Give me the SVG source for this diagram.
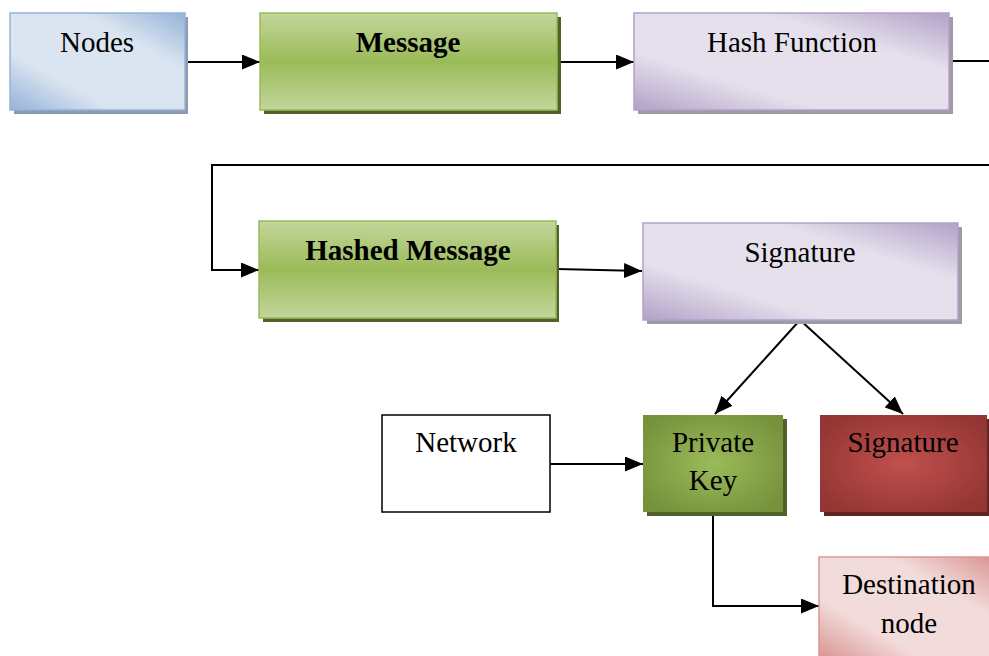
<svg xmlns="http://www.w3.org/2000/svg" width="989" height="656" viewBox="0 0 989 656">
  <defs>
    <linearGradient id="gBlue" x1="0" y1="1" x2="1" y2="0">
      <stop offset="0" stop-color="#95b3d7"/>
      <stop offset="0.3" stop-color="#dbe5f1"/>
      <stop offset="0.7" stop-color="#dbe5f1"/>
      <stop offset="1" stop-color="#95b3d7"/>
    </linearGradient>
    <linearGradient id="gGreen" x1="0" y1="0" x2="0" y2="1">
      <stop offset="0" stop-color="#c3d69b"/>
      <stop offset="0.5" stop-color="#9bbb59"/>
      <stop offset="1" stop-color="#c3d69b"/>
    </linearGradient>
    <linearGradient id="gPurple" x1="0" y1="1" x2="1" y2="0">
      <stop offset="0" stop-color="#b2a1c7"/>
      <stop offset="0.3" stop-color="#e5e0ec"/>
      <stop offset="0.7" stop-color="#e5e0ec"/>
      <stop offset="1" stop-color="#b2a1c7"/>
    </linearGradient>
    <linearGradient id="gPink" x1="0" y1="1" x2="1" y2="0">
      <stop offset="0" stop-color="#d99694"/>
      <stop offset="0.3" stop-color="#f2dcdb"/>
      <stop offset="0.7" stop-color="#f2dcdb"/>
      <stop offset="1" stop-color="#d99694"/>
    </linearGradient>
    <radialGradient id="gOlive" cx="0.5" cy="0.5" r="0.6">
      <stop offset="0" stop-color="#9bbb59"/>
      <stop offset="1" stop-color="#76923c"/>
    </radialGradient>
    <radialGradient id="gRed" cx="0.5" cy="0.5" r="0.6">
      <stop offset="0" stop-color="#c0504d"/>
      <stop offset="1" stop-color="#943634"/>
    </radialGradient>
    <marker id="arrow" viewBox="0 0 10 10" refX="10" refY="5" markerWidth="8" markerHeight="7" markerUnits="userSpaceOnUse" orient="auto" preserveAspectRatio="none">
      <path d="M0,0 L10,5 L0,10 Z" fill="#000"/>
    </marker>
    <marker id="arrowBig" viewBox="0 0 10 10" refX="10" refY="5" markerWidth="18" markerHeight="15" markerUnits="userSpaceOnUse" orient="auto" preserveAspectRatio="none">
      <path d="M0,0 L10,5 L0,10 Z" fill="#000"/>
    </marker>
  </defs>
  <style>
    text { font-family: "Liberation Serif", "Times New Roman", serif; font-size: 29px; fill: #000; text-anchor: middle; }
    .bold { font-weight: bold; }
    .wire { fill: none; stroke: #000; stroke-width: 2; }
  </style>

  <rect width="989" height="656" fill="#fff"/>

  <!-- connectors -->
  <g id="connectors">
    <line class="wire" x1="185" y1="62" x2="260" y2="62" marker-end="url(#arrowBig)"/>
    <line class="wire" x1="557" y1="62" x2="634" y2="62" marker-end="url(#arrowBig)"/>
    <line class="wire" x1="949" y1="61" x2="989" y2="61"/>
    <polyline class="wire" points="989,165 212,165 212,270 259,270" marker-end="url(#arrowBig)"/>
    <line class="wire" x1="557" y1="269" x2="642" y2="271" marker-end="url(#arrowBig)"/>
    <line class="wire" x1="800" y1="320" x2="715" y2="414" marker-end="url(#arrowBig)"/>
    <line class="wire" x1="800" y1="320" x2="903" y2="414" marker-end="url(#arrowBig)"/>
    <line class="wire" x1="550" y1="464" x2="643" y2="464" marker-end="url(#arrowBig)"/>
    <polyline class="wire" points="713,512 713,606 819,606" marker-end="url(#arrowBig)"/>
  </g>

  <!-- nodes -->
  <g id="node-nodes">
    <rect x="14" y="17" width="174" height="97" fill="#8d9bb1"/>
    <rect x="10" y="13" width="175" height="97" fill="url(#gBlue)" stroke="#95b3d7" stroke-width="1.5"/>
    <text x="97" y="52">Nodes</text>
  </g>

  <g id="node-message">
    <rect x="264" y="17" width="297" height="97" fill="#4f6228"/>
    <rect x="260" y="13" width="297" height="97" fill="url(#gGreen)" stroke="#9bbb59" stroke-width="1.5"/>
    <text class="bold" x="408" y="52">Message</text>
  </g>

  <g id="node-hash-function">
    <rect x="638" y="17" width="315" height="97" fill="#a09aa8"/>
    <rect x="634" y="13" width="315" height="97" fill="url(#gPurple)" stroke="#b2a1c7" stroke-width="1.5"/>
    <text x="792" y="52">Hash Function</text>
  </g>

  <g id="node-hashed-message">
    <rect x="263" y="225" width="296" height="97" fill="#4f6228"/>
    <rect x="259" y="221" width="297" height="97" fill="url(#gGreen)" stroke="#9bbb59" stroke-width="1.5"/>
    <text class="bold" x="408" y="260">Hashed Message</text>
  </g>

  <g id="node-signature">
    <rect x="647" y="227" width="315" height="97" fill="#a09aa8"/>
    <rect x="643" y="223" width="315" height="97" fill="url(#gPurple)" stroke="#b2a1c7" stroke-width="1.5"/>
    <text x="800" y="262">Signature</text>
  </g>

  <g id="node-network">
    <rect x="382" y="415" width="168" height="97" fill="#fff" stroke="#000" stroke-width="1.5"/>
    <text x="466" y="452">Network</text>
  </g>

  <g id="node-private-key">
    <rect x="647" y="419" width="140" height="97" fill="#4f6228"/>
    <rect x="643" y="415" width="140" height="97" fill="url(#gOlive)"/>
    <text x="713" y="452">Private</text>
    <text x="713" y="490">Key</text>
  </g>

  <g id="node-signature-out">
    <rect x="824" y="419" width="170" height="97" fill="#632523"/>
    <rect x="820" y="415" width="167" height="97" fill="url(#gRed)"/>
    <text x="903" y="452">Signature</text>
  </g>

  <g id="node-destination">
    <rect x="823" y="561" width="170" height="100" fill="#a06e6c"/>
    <rect x="819" y="557" width="172" height="100" fill="url(#gPink)" stroke="#d99694" stroke-width="1.5"/>
    <text x="909" y="594">Destination</text>
    <text x="909" y="633">node</text>
  </g>
</svg>
